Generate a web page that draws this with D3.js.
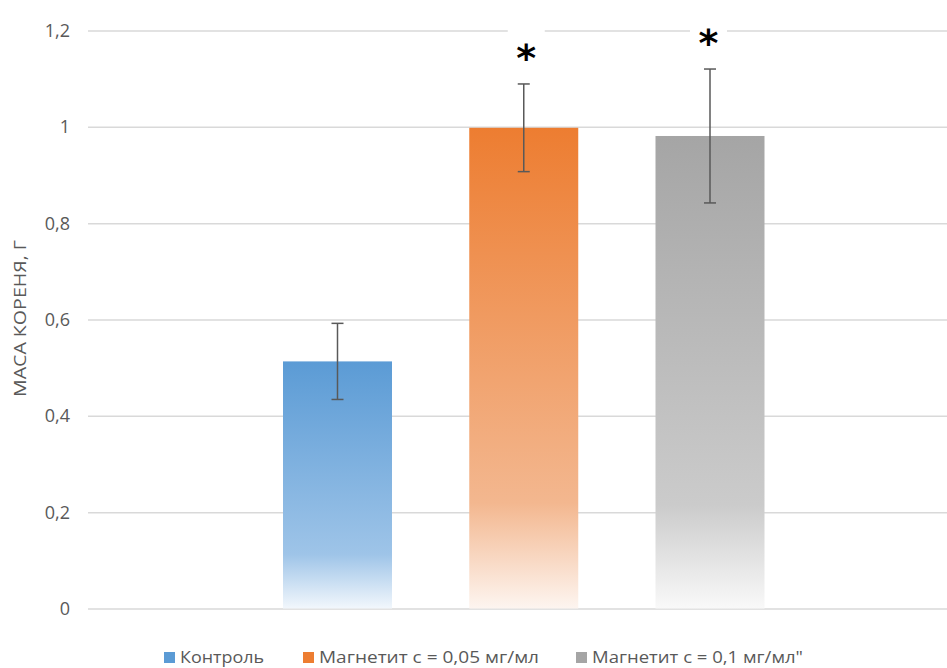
<!DOCTYPE html>
<html>
<head>
<meta charset="utf-8">
<script src="https://cdn.jsdelivr.net/npm/d3@7/dist/d3.min.js"></script>
<style>
  html, body { margin: 0; padding: 0; background: #fff; }
  svg { display: block; }
  text { font-family: "Open Sans", "Noto Sans", sans-serif; }
</style>
</head>
<body>
<svg id="chart" width="947" height="668"></svg>
<script>
// Root mass by treatment group (mean ± error)
const series = ["Контроль", "Магнетит с = 0,05 мг/мл", "Магнетит с = 0,1 мг/мл\""];
const means = [0.513, 0.998, 0.981];
const errors = [0.079, 0.091, 0.139];
const marks = ["", "*", "*"];
const yTicks = [0, 0.2, 0.4, 0.6, 0.8, 1, 1.2];
const yTitle = "МАСА КОРЕНЯ, Г";

const colors = ["#5b9bd5", "#ed7d31", "#a5a5a5"];
const mids = ["#9ec4e8", "#f3b78f", "#cbcbcb"];
const lows = ["#f2f7fc", "#fdf5f0", "#f9f9f9"];

const svg = d3.select("#chart");
const plotL = 88, plotR = 947, plotT = 30.5, plotB = 608.5;

const y = d3.scaleLinear().domain([0, 1.2]).range([plotB, plotT]);
const x = d3.scalePoint().domain(series).range([337.5, 710]);
const barW = 109;

// vertical fade for each bar
const defs = svg.append("defs");
series.forEach((s, i) => {
  const g = defs.append("linearGradient")
    .attr("id", "grad" + i)
    .attr("x1", 0).attr("y1", 0).attr("x2", 0).attr("y2", 1);
  g.append("stop").attr("offset", "0%").attr("stop-color", colors[i]);
  g.append("stop").attr("offset", "78%").attr("stop-color", mids[i]);
  g.append("stop").attr("offset", "100%").attr("stop-color", lows[i]);
});

// horizontal gridlines + tick labels
const yAxis = d3.axisLeft(y).tickValues(yTicks)
  .tickSize(-(plotR - plotL))
  .tickFormat(d => String(d).replace(".", ","))
  .tickPadding(18);

const ax = svg.append("g").attr("transform", `translate(${plotL},0)`).call(yAxis);
ax.select(".domain").remove();
ax.selectAll(".tick line").attr("stroke", "#d9d9d9").attr("stroke-width", 1.5);
ax.selectAll(".tick text")
  .attr("fill", "#595959")
  .style("font-size", "18px")
  .attr("dy", "0.34em");

// axis title
svg.append("text")
  .attr("transform", `translate(26,318.5) rotate(-90)`)
  .attr("text-anchor", "middle")
  .attr("fill", "#595959")
  .style("font-size", "17px")
  .attr("textLength", 157)
  .attr("lengthAdjust", "spacingAndGlyphs")
  .text(yTitle);

// bars
svg.append("g").selectAll("rect")
  .data(series)
  .join("rect")
  .attr("x", d => x(d) - barW / 2)
  .attr("width", barW)
  .attr("y", (d, i) => y(means[i]))
  .attr("height", (d, i) => y(0) - y(means[i]))
  .attr("fill", (d, i) => `url(#grad${i})`);

// error bars
const eb = svg.append("g").attr("stroke", "#595959").attr("stroke-width", 1.5);
series.forEach((s, i) => {
  const cx = x(s), hi = y(means[i] + errors[i]), lo = y(means[i] - errors[i]);
  eb.append("line").attr("x1", cx).attr("x2", cx).attr("y1", hi).attr("y2", lo);
  eb.append("line").attr("x1", cx - 6).attr("x2", cx + 6).attr("y1", hi).attr("y2", hi);
  eb.append("line").attr("x1", cx - 6).attr("x2", cx + 6).attr("y1", lo).attr("y2", lo);
});

// significance marks, with a white label box behind them
const markGap = 34;
series.forEach((s, i) => {
  if (!marks[i]) return;
  const cx = x(s) + (i === 1 ? 2.5 : -1.5);
  const cy = y(means[i] + errors[i]) - markGap;
  svg.append("rect")
    .attr("x", cx - 18.5).attr("y", Math.min(cy - 24, plotT - 4))
    .attr("width", 37).attr("height", 44)
    .attr("fill", "#fff");
  svg.append("text")
    .attr("x", cx).attr("y", cy + 21)
    .attr("text-anchor", "middle")
    .attr("fill", "#000")
    .style("font-size", "38px")
    .style("font-weight", "bold")
    .style("font-family", "'DejaVu Sans', sans-serif")
    .text(marks[i]);
});

// legend
const legendX = [164, 303, 576];
const legendW = [84, 220, 211];
const lg = svg.append("g");
series.forEach((s, i) => {
  const g = lg.append("g").attr("transform", `translate(${legendX[i]},657.5)`);
  g.append("rect").attr("x", 0).attr("y", -5.5).attr("width", 11).attr("height", 11).attr("fill", colors[i]);
  g.append("text").attr("x", 16).attr("y", 0).attr("dy", "0.36em")
    .attr("fill", "#595959").style("font-size", "15.5px")
    .attr("textLength", legendW[i])
    .attr("lengthAdjust", "spacingAndGlyphs")
    .text(s);
});
</script>
</body>
</html>
